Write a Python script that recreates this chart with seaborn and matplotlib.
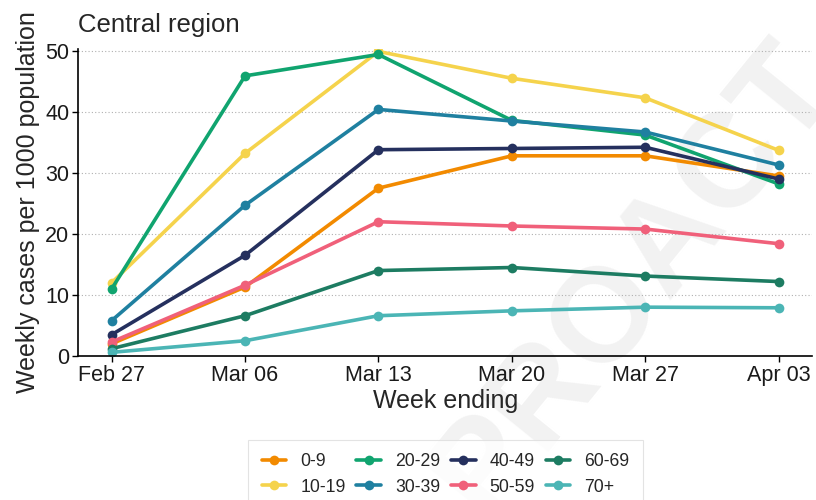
import numpy as np
import pandas as pd
import seaborn as sns
import matplotlib.pyplot as plt

weeks = ["Feb 27", "Mar 06", "Mar 13", "Mar 20", "Mar 27", "Apr 03"]
age_groups = ["0-9", "10-19", "20-29", "30-39", "40-49", "50-59", "60-69", "70+"]

# weekly cases per 1000 population
cases_0_9 = [2.0, 11.3, 27.5, 32.8, 32.8, 29.5]
cases_10_19 = [12.0, 33.2, 49.9, 45.5, 42.3, 33.7]
cases_20_29 = [11.0, 45.9, 49.4, 38.6, 36.2, 28.2]
cases_30_39 = [5.8, 24.7, 40.4, 38.5, 36.7, 31.3]
cases_40_49 = [3.5, 16.5, 33.8, 34.0, 34.2, 29.0]
cases_50_59 = [2.3, 11.6, 22.0, 21.3, 20.8, 18.4]
cases_60_69 = [1.2, 6.6, 14.0, 14.5, 13.1, 12.2]
cases_70p = [0.6, 2.5, 6.6, 7.4, 8.0, 7.9]

colours = ["#f28a00", "#f5d34c", "#10a46f", "#1f80a0",
           "#25305e", "#f0607a", "#1d7c62", "#4bb5b5"]

all_cases = [cases_0_9, cases_10_19, cases_20_29, cases_30_39,
             cases_40_49, cases_50_59, cases_60_69, cases_70p]
rows = []
for grp, vals in zip(age_groups, all_cases):
    for i, v in enumerate(vals):
        rows.append({"week": i, "cases": v, "age": grp})
df = pd.DataFrame(rows)

sns.set_style("white")
plt.rcParams["font.family"] = ["Liberation Sans", "DejaVu Sans"]

fig = plt.figure(figsize=(8.16, 5.0), dpi=100)
ax = fig.add_axes([0.096, 0.288, 0.899, 0.614])
ax.set_facecolor("none")
ax.set_zorder(1)

# faint watermark behind the chart
fig.text(0.778, 0.44, "PROACT", rotation=51, fontsize=96, fontweight="bold",
         color="#f2f2f2", ha="center", va="center", zorder=-5)

sns.lineplot(data=df, x="week", y="cases", hue="age", hue_order=age_groups,
             palette=colours, marker="o", markersize=7, markeredgewidth=0,
             linewidth=2.6, ax=ax, legend=True)

ax.set_xlim(-0.25, 5.25)
ax.set_ylim(0, 50.3)
ax.set_xticks(range(len(weeks)))
ax.set_xticklabels(weeks)
ax.set_yticks([0, 10, 20, 30, 40, 50])
ax.tick_params(axis="both", labelsize=15.5, length=4, width=1, color="black",
               bottom=True, left=True, pad=2.5, labelcolor="#1a1a1a")
ax.yaxis.grid(True, linestyle=(0, (1, 2)), color="#b0b0b0", linewidth=0.8)
ax.xaxis.grid(False)
for s in ["top", "right"]:
    ax.spines[s].set_visible(False)
for s in ["left", "bottom"]:
    ax.spines[s].set_color("black")
    ax.spines[s].set_linewidth(1.2)

ax.set_xlabel("Week ending", fontsize=18, labelpad=2)
ax.set_ylabel("Weekly cases per 1000 population", fontsize=18, labelpad=4)
ax.set_title("Central region", fontsize=18.5, loc="left", pad=12)

handles, labels = ax.get_legend_handles_labels()
ax.get_legend().remove()
leg = fig.legend(handles, labels, loc="upper center", bbox_to_anchor=(0.546, 0.128),
                 ncol=4, fontsize=12.7, frameon=True, handlelength=1.4,
                 handletextpad=0.8, columnspacing=0.6, borderpad=0.45,
                 labelspacing=0.5)
leg.get_frame().set_edgecolor("#dddddd")
leg.get_frame().set_linewidth(0.8)
leg.get_frame().set_boxstyle("square")

fig.savefig("out.png", dpi=100)
